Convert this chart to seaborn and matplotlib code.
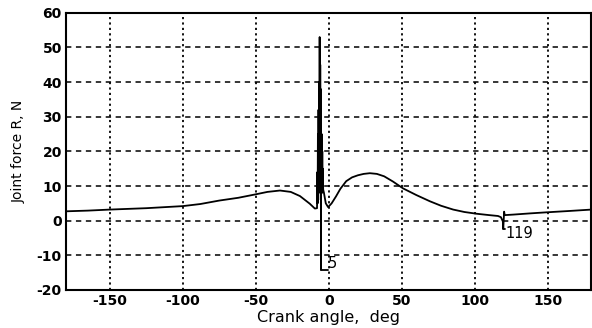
import matplotlib
matplotlib.use("Agg")
import matplotlib.pyplot as plt
import seaborn as sns
import pandas as pd
import numpy as np

# Crank angle (deg) and joint force R (N)
angle = [-180, -165, -150, -125, -100, -88, -75, -62, -50, -42, -33.4, -26, -19.7, -13, -9.5,
         -8.0, -7.8, -7.6, -7.4, -7.2, -7.0, -6.8, -6.6, -6.4, -6.2, -6.0, -5.8, -5.6, -5.45,
         -5.3, -5.15, -5.0, -4.8, -4.6, -4.4, -4.2, -4.0, -3.8, -3.3, -2.0, -0.4,
         2, 5, 8, 12, 16, 20, 24, 28.2, 33, 38, 44, 51, 60, 69.3, 77, 85.3, 93, 101.3, 110, 116, 118,
         119.3, 119.6, 120.2, 120.6, 126.4, 138, 149, 165, 180]
force = [2.7, 2.9, 3.2, 3.6, 4.2, 4.8, 5.8, 6.6, 7.6, 8.3, 8.7, 8.3, 7.1, 4.9, 3.5,
         3.6, 14, 5, 25, 6, 32, 8, 40, 12, 53, 10, 45, 12, 38,
         -14.2, 22, 9, 25, 8, 20, 9, 15, 9, 8.1, 5.0, 3.9,
         5.0, 7.0, 9.2, 11.4, 12.5, 13.1, 13.5, 13.7, 13.5, 12.8, 11.3, 9.3, 7.4, 5.6, 4.3, 3.2, 2.5, 2.0, 1.6, 1.35, 1.0,
         -0.2, -2.3, 2.6, 1.6, 1.75, 2.1, 2.4, 2.8, 3.2]

x_ticks = [-150, -100, -50, 0, 50, 100, 150]
y_ticks = [-20, -10, 0, 10, 20, 30, 40, 50, 60]
labels = ["5", "119"]

df = pd.DataFrame({"angle": angle, "force": force})

sns.set_style("white")
plt.rcParams['font.family'] = ['DejaVu Sans']
plt.rcParams['text.color'] = 'black'
plt.rcParams['axes.labelcolor'] = 'black'
plt.rcParams['xtick.color'] = 'black'
plt.rcParams['ytick.color'] = 'black'

fig = plt.figure(figsize=(5.92, 3.28), dpi=100)
ax = fig.add_axes([0.1115, 0.116, 0.8875, 0.845])

sns.lineplot(data=df, x="angle", y="force", sort=False, estimator=None,
             color="black", linewidth=1.3, ax=ax)

ax.set_xlim(-180, 180)
ax.set_ylim(-20, 60)
ax.set_xticks(x_ticks)
ax.set_yticks(y_ticks)
ax.set_xticklabels([str(v) for v in x_ticks])
ax.set_yticklabels([str(v) for v in y_ticks])

for v in x_ticks:
    ax.axvline(v, color="black", linestyle=(0, (1.2, 1.8)), linewidth=1.3, zorder=0)
for v in y_ticks[1:-1]:
    ax.axhline(v, color="black", linestyle=(0, (3.5, 3)), linewidth=1.1, zorder=0)

# annotations
ymin_i = int(np.argmin(df["force"].values))
xs, ys = df["angle"].values[ymin_i], df["force"].values[ymin_i]
ax.plot([xs, xs + 4.5], [ys, ys], color="black", linewidth=1.3)
ax.text(xs + 4.6, ys - 0.3, labels[0], fontsize=10.5, ha="left", va="bottom")

sub = df[df["angle"] > 100]
j = sub["force"].idxmin()
xa, ya = df.loc[j, "angle"], df.loc[j, "force"]
ax.plot([xa, xa + 1.2], [ya, ya], color="black", linewidth=1.3)
ax.text(xa + 1.4, ya + 0.8, labels[1], fontsize=10.5, ha="left", va="top")

ax.set_xlabel("Crank angle,  deg", fontsize=11.5, labelpad=1)
ax.set_ylabel("Joint force R, N", fontsize=10, labelpad=8)
ax.tick_params(axis="both", labelsize=10, length=0, pad=3)
for t in ax.get_yticklabels():
    t.set_fontweight("bold")
for t in ax.get_xticklabels():
    t.set_fontweight("bold")

for s in ax.spines.values():
    s.set_color("black")
    s.set_linewidth(1.5)

fig.savefig("out.png", dpi=100)
